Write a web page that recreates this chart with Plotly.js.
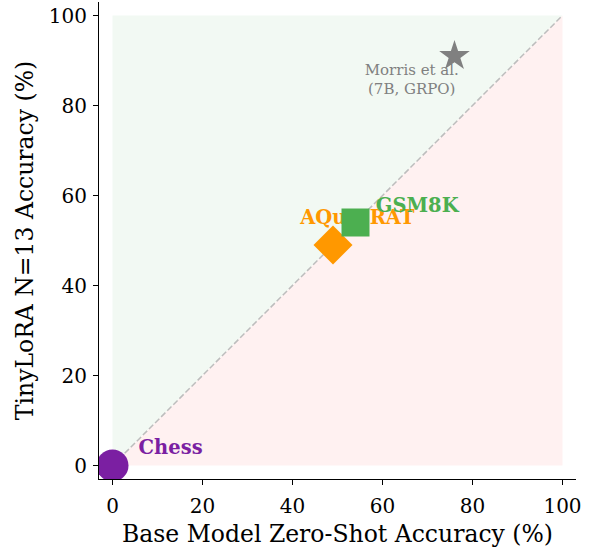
<!DOCTYPE html>
<html>
<head>
<meta charset="utf-8">
<script src="https://cdn.plot.ly/plotly-3.0.1.min.js"></script>
<style>html,body{margin:0;padding:0;background:#fff;}#chart{width:589px;height:548px;}</style>
</head>
<body>
<div id="chart"></div>
<script>
// ---- data ----
const tasks = ["Chess", "AQuA-RAT", "GSM8K"];
const baseAcc = [0, 49, 54];
const tinyAcc = [0, 49, 54];
const taskColors = ["#7b1fa2", "#ff9800", "#4caf50"];
const taskSymbols = ["circle", "diamond", "square"];
const refName = "Morris et al.<br>(7B, GRPO)";
const refBase = [76];
const refTiny = [91];
const diagX = [0, 100];
const diagY = [0, 100];
const tickVals = [0, 20, 40, 60, 80, 100];

// label offsets (data units) from each point
const labelDx = [5.8, 5.4, 4.5];
const labelDy = [3.6, 5.8, 3.5];
const labelAnchor = ["middle right", "middle center", "middle right"];
const markerSizes = [32, 30, 28];

const FONT = "DejaVu Serif, serif";
const traces = [];

// shaded regions
traces.push({x:[diagX[0], diagX[0], diagX[1]], y:[diagY[0], diagY[1], diagY[1]], mode:"lines", fill:"toself",
  fillcolor:"#f2f9f3", line:{width:0}, hoverinfo:"skip", showlegend:false});
traces.push({x:[diagX[0], diagX[1], diagX[1]], y:[diagY[0], diagY[0], diagY[1]], mode:"lines", fill:"toself",
  fillcolor:"#fff1f1", line:{width:0}, hoverinfo:"skip", showlegend:false});
// diagonal
traces.push({x:diagX, y:diagY, mode:"lines", line:{color:"#bdbdbd", width:1.5, dash:"6px,2.6px"}, hoverinfo:"skip", showlegend:false});

// text labels (drawn under markers)
for (let i = 0; i < tasks.length; i++) {
  traces.push({x:[baseAcc[i] + labelDx[i]], y:[tinyAcc[i] + labelDy[i]], mode:"text", text:["<b>"+tasks[i]+"</b>"],
    textposition: labelAnchor[i], textfont:{family:FONT, size:19.5, color:taskColors[i]}, hoverinfo:"skip", showlegend:false});
}
traces.push({x:[refBase[0] - 9.5], y:[refTiny[0] - 5.5], mode:"text", text:[refName], textposition:"middle center",
  textfont:{family:FONT, size:15, color:"#808080"}, hoverinfo:"skip", showlegend:false});

// markers
for (let i = 0; i < tasks.length; i++) {
  traces.push({x:[baseAcc[i]], y:[tinyAcc[i]], mode:"markers", name:tasks[i],
    marker:{symbol:taskSymbols[i], size:markerSizes[i], color:taskColors[i], line:{width:0}}, showlegend:false});
}
traces.push({x:refBase, y:refTiny, mode:"markers", name:"Morris et al.",
  marker:{symbol:"star", size:23, color:"#808080", line:{width:0}}, showlegend:false});

const axisCommon = {
  showgrid:false, zeroline:false, showline:true, linecolor:"#000", linewidth:1.1,
  ticks:"outside", ticklen:5, tickwidth:1.1, tickcolor:"#000",
  tickvals:tickVals, tickfont:{family:FONT, size:20, color:"#000"}, mirror:false
};

const layout = {
  width:589, height:548,
  margin:{l:99, r:13, t:2, b:69},
  paper_bgcolor:"#fff", plot_bgcolor:"#fff",
  xaxis:Object.assign({}, axisCommon, {range:[-3, 103], ticklabelstandoff:4,
    title:{text:"Base Model Zero-Shot Accuracy (%)", font:{family:FONT, size:23.5, color:"#000"}, standoff:8}}),
  yaxis:Object.assign({}, axisCommon, {range:[-3, 103], ticklabelstandoff:2,
    title:{text:"TinyLoRA N=13 Accuracy (%)", font:{family:FONT, size:23.5, color:"#000"}, standoff:8}}),
  showlegend:false
};

Plotly.newPlot("chart", traces, layout, {displayModeBar:false, staticPlot:true});
</script>
</body>
</html>
